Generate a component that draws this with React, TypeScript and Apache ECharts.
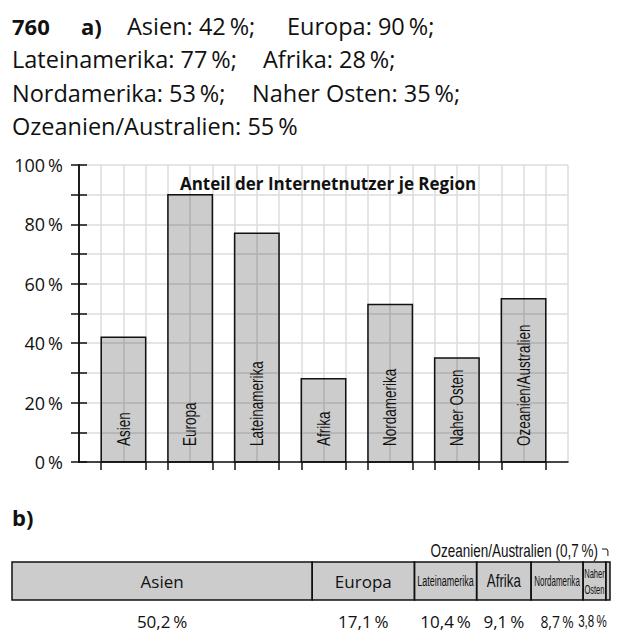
import React, { useEffect, useRef } from "react";
import * as echarts from "echarts";

// ---------- data ----------
const regions = [
  "Asien",
  "Europa",
  "Lateinamerika",
  "Afrika",
  "Nordamerika",
  "Naher Osten",
  "Ozeanien/Australien",
];
// a) share of internet users within each region (%)
const internetShare = [42, 90, 77, 28, 53, 35, 55];
// b) share of all internet users worldwide (%)
const userShare = [50.2, 17.1, 10.4, 9.1, 8.7, 3.8, 0.7];
const yTickLabels = [0, 20, 40, 60, 80, 100];
const chartTitle = "Anteil der Internetnutzer je Region";
const exerciseNo = "760";
const partA = "a)";
const partB = "b)";

// ---------- styles ----------
const SANS = "'Open Sans', 'Liberation Sans', sans-serif";
const COND = "'Liberation Sans', Arial, sans-serif"; // squeezed with scaleX
const INK = "#111111";
const GRID = "#dddddd";
const BAR_FILL = "rgba(0,0,0,0.2)";

const pct = (v: number, d = 0) =>
  (d ? v.toFixed(d).replace(".", ",") : String(v)) + "\u2009%";

// font choices for labels in the 100% bar (style only)
const segNameFont = [
  { family: SANS, size: 17, sx: 1 },
  { family: SANS, size: 17, sx: 1 },
  { family: COND, size: 15, sx: 0.6 },
  { family: COND, size: 17.5, sx: 0.76 },
  { family: COND, size: 14, sx: 0.57 },
  { family: COND, size: 13, sx: 0.58 },
  { family: COND, size: 17.5, sx: 0.77 },
];
const segPctFont = [
  { family: SANS, size: 17, sx: 1 },
  { family: SANS, size: 17, sx: 1 },
  { family: SANS, size: 17, sx: 1 },
  { family: SANS, size: 17, sx: 1 },
  { family: SANS, size: 17, sx: 0.82 },
  { family: COND, size: 17, sx: 0.68 },
  { family: COND, size: 17, sx: 0.68 },
];

export default function App() {
  const ref = useRef<HTMLDivElement>(null);

  useEffect(() => {
    document.body.style.margin = "0";
    const chart = echarts.init(ref.current!, null, { renderer: "svg" });

    const n = regions.length;
    const cells = n * 3 + 1;
    const edges: number[] = [];
    for (let i = 0; i < n; i++) edges.push(3 * i + 1, 3 * i + 3);

    // header lines (built from data)
    const item = (i: number) =>
      `${regions[i]}: ${pct(internetShare[i])}` + (i < n - 1 ? ";" : "");
    const headerLines = [
      [
        { x: 12, text: exerciseNo, bold: true },
        { x: 81, text: partA, bold: true },
        { x: 127, text: item(0) },
        { x: 287, text: item(1) },
      ],
      [
        { x: 12, text: item(2) },
        { x: 263, text: item(3) },
      ],
      [
        { x: 12, text: item(4) },
        { x: 252, text: item(5) },
      ],
      [{ x: 12, text: item(6) }],
    ];
    const graphics: any[] = [];
    headerLines.forEach((line, li) => {
      line.forEach((p: any) => {
        graphics.push({
          type: "text",
          x: p.x,
          y: 26 + li * 33.4,
          style: {
            text: p.text,
            fontFamily: SANS,
            fontSize: p.bold ? 22 : 23.5,
            fontWeight: p.bold ? "bold" : "normal",
            fill: INK,
            verticalAlign: "middle",
          },
        });
      });
    });
    graphics.push({
      type: "text",
      x: 12,
      y: 517,
      style: {
        text: partB,
        fontFamily: SANS,
        fontSize: 22,
        fontWeight: "bold",
        fill: INK,
        verticalAlign: "middle",
      },
    });

    // cumulative starts for the 100% bar
    const starts: number[] = [];
    userShare.reduce((acc, v) => {
      starts.push(acc);
      return acc + v;
    }, 0);

    const option: any = {
      animation: false,
      backgroundColor: "#ffffff",
      title: {
        text: chartTitle,
        left: 323,
        top: 170,
        textAlign: "center",
        textStyle: {
          fontFamily: SANS,
          fontWeight: "bold",
          fontSize: 17,
          color: INK,
        },
      },
      graphic: graphics,
      grid: [
        { left: 79, top: 165, width: 489, height: 297 },
        { left: 12, top: 562, width: 598, height: 38 },
      ],
      xAxis: [
        {
          gridIndex: 0,
          type: "value",
          min: 0,
          max: cells,
          interval: 1,
          axisLine: { show: false },
          axisTick: { show: false },
          axisLabel: { show: false },
          splitLine: { show: true, lineStyle: { color: GRID, width: 1.5 } },
        },
        {
          gridIndex: 0,
          type: "value",
          position: "bottom",
          min: 0,
          max: cells,
          axisLine: { show: true, lineStyle: { color: INK, width: 1.5 } },
          axisTick: {
            show: true,
            customValues: edges,
            length: 8,
            lineStyle: { color: INK, width: 1.5 },
          },
          axisLabel: { show: false },
          splitLine: { show: false },
        },
        {
          gridIndex: 1,
          type: "value",
          min: 0,
          max: 100,
          show: false,
        },
      ],
      yAxis: [
        {
          gridIndex: 0,
          type: "value",
          min: 0,
          max: 100,
          interval: 10,
          axisLine: { show: true, lineStyle: { color: INK, width: 1.5 } },
          axisTick: { show: true, length: 8, lineStyle: { color: INK, width: 1.5 } },
          axisLabel: {
            margin: 16,
            fontFamily: SANS,
            fontSize: 18,
            color: INK,
            formatter: (v: number) => (yTickLabels.includes(v) ? pct(v) : ""),
          },
          splitLine: { show: true, lineStyle: { color: GRID, width: 1.5 } },
        },
        {
          gridIndex: 0,
          type: "value",
          position: "left",
          min: 0,
          max: 100,
          interval: 10,
          axisLine: { show: true, lineStyle: { color: INK, width: 1.5 } },
          axisTick: {
            show: true,
            inside: true,
            length: 8,
            lineStyle: { color: INK, width: 1.5 },
          },
          axisLabel: { show: false },
          splitLine: { show: false },
        },
        {
          gridIndex: 1,
          type: "value",
          min: 0,
          max: 1,
          show: false,
        },
      ],
      series: [
        {
          type: "custom",
          xAxisIndex: 0,
          yAxisIndex: 0,
          data: internetShare.map((v, i) => [i, v]),
          renderItem: (params: any, api: any) => {
            const i = api.value(0);
            const v = api.value(1);
            const p0 = api.coord([3 * i + 1, v]);
            const p1 = api.coord([3 * i + 3, 0]);
            const w = p1[0] - p0[0];
            const h = p1[1] - p0[1];
            return {
              type: "group",
              children: [
                {
                  type: "rect",
                  shape: { x: p0[0], y: p0[1], width: w, height: h },
                  style: { fill: BAR_FILL, stroke: INK, lineWidth: 1.5 },
                },
                {
                  type: "text",
                  x: p0[0] + w / 2,
                  y: p1[1] - 16,
                  rotation: Math.PI / 2,
                  scaleX: 0.75,
                  style: {
                    text: regions[i],
                    fontFamily: COND,
                    fontSize: 18,
                    fill: INK,
                    align: "left",
                    verticalAlign: "middle",
                  },
                },
              ],
            };
          },
        },
        {
          type: "custom",
          xAxisIndex: 2,
          yAxisIndex: 2,
          data: userShare.map((v, i) => [starts[i], v, i]),
          renderItem: (params: any, api: any) => {
            const s = api.value(0);
            const v = api.value(1);
            const i = api.value(2);
            const p0 = api.coord([s, 1]);
            const p1 = api.coord([s + v, 0]);
            const w = p1[0] - p0[0];
            const h = p1[1] - p0[1];
            const cx = p0[0] + w / 2;
            const cy = p0[1] + h / 2;
            const children: any[] = [
              {
                type: "rect",
                shape: { x: p0[0], y: p0[1], width: w, height: h },
                style: { fill: BAR_FILL, stroke: INK, lineWidth: 1.5 },
              },
            ];
            const nf = segNameFont[i];
            const pf = segPctFont[i];
            if (v >= 1) {
              const twoLines = w < 30;
              const name = twoLines ? regions[i].split(" ").join("\n") : regions[i];
              children.push({
                type: "text",
                x: cx,
                y: cy,
                scaleX: nf.sx,
                style: {
                  text: name,
                  fontFamily: nf.family,
                  fontSize: nf.size,
                  lineHeight: twoLines ? 16 : undefined,
                  fill: INK,
                  align: "center",
                  verticalAlign: "middle",
                },
              });
              children.push({
                type: "text",
                x: twoLines ? p1[0] + 1 : cx,
                y: p1[1] + 21,
                scaleX: pf.sx,
                style: {
                  text: pct(v, 1),
                  fontFamily: pf.family,
                  fontSize: pf.size,
                  fill: INK,
                  align: twoLines ? "right" : "center",
                  verticalAlign: "middle",
                },
              });
            } else {
              // tiny segment: label outside with a small hook
              children.push({
                type: "text",
                x: cx - 10,
                y: p0[1] - 11,
                scaleX: nf.sx,
                style: {
                  text: `${regions[i]} (${pct(v, 1)})`,
                  fontFamily: nf.family,
                  fontSize: nf.size,
                  fill: INK,
                  align: "right",
                  verticalAlign: "middle",
                },
              });
              children.push({
                type: "polyline",
                shape: {
                  points: [
                    [cx - 6, p0[1] - 13],
                    [cx - 1, p0[1] - 13],
                    [cx, p0[1] - 11],
                    [cx, p0[1] - 6],
                  ],
                },
                style: { stroke: INK, lineWidth: 1, fill: "none" },
              });
            }
            return { type: "group", children };
          },
        },
      ],
    };

    chart.setOption(option);
    return () => chart.dispose();
  }, []);

  return <div ref={ref} style={{ width: 625, height: 637 }} />;
}
